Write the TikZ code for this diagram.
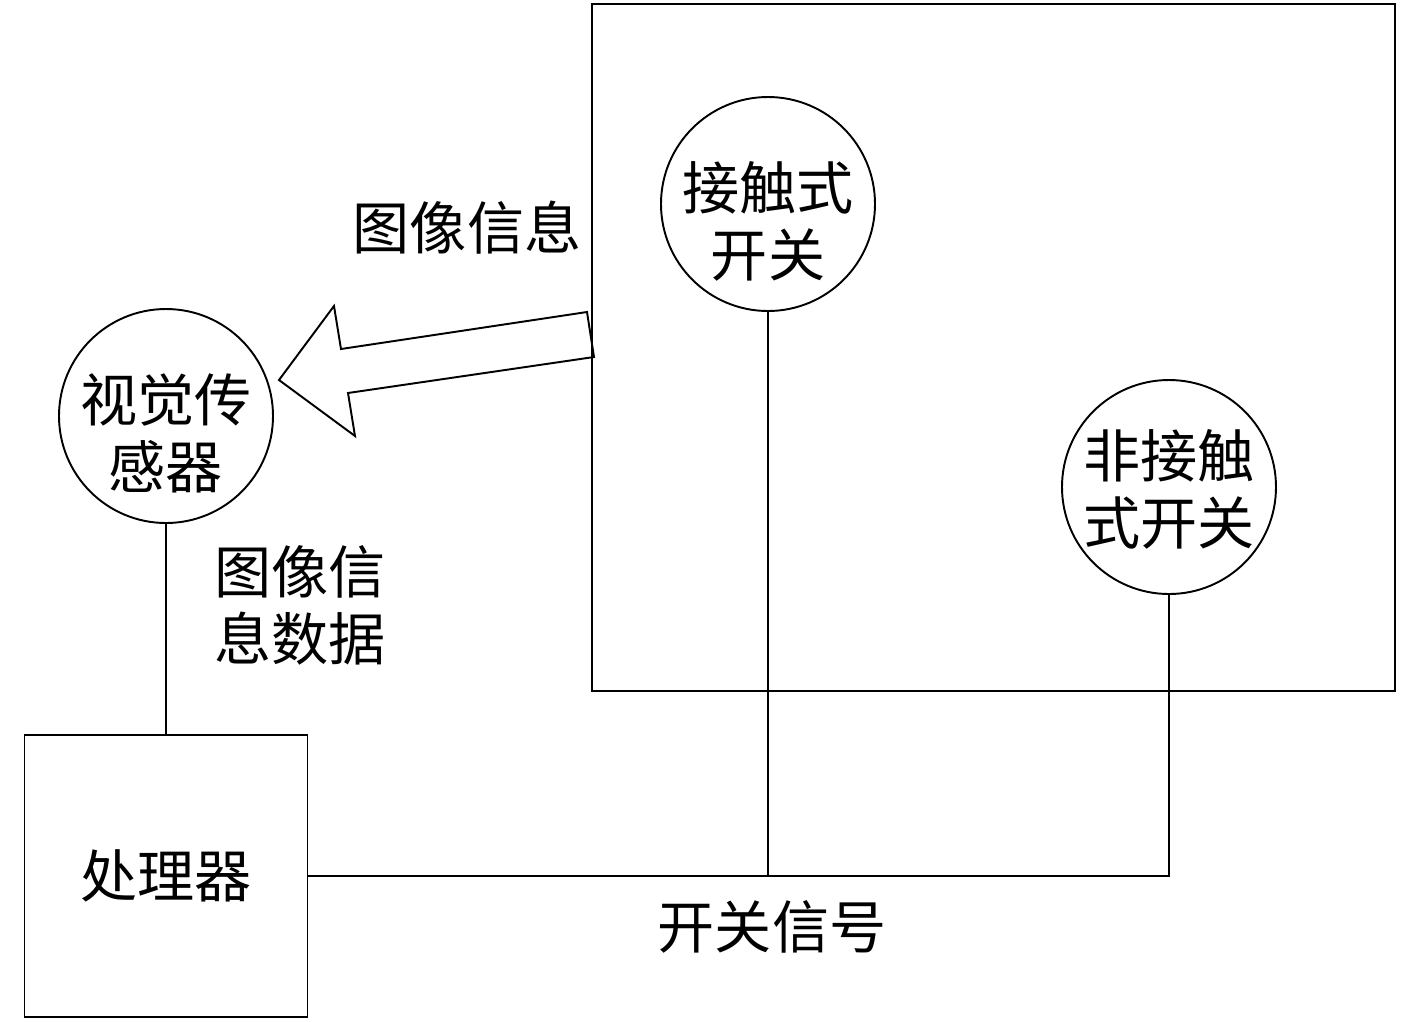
\documentclass[tikz,border=0pt]{standalone}
\usepackage{fontspec}
\setmainfont{Noto Sans CJK SC}
\begin{document}
\begin{tikzpicture}[
    x=0.2mm,
    y=-0.2mm,
    line width=1.1pt,
    font=\fontsize{32.5}{38}\selectfont,
    round/.style={draw,circle,minimum size=42.8mm,inner sep=0pt},
    box/.style={draw,minimum width=56.6mm,minimum height=56.4mm},
    txt/.style={align=center,inner sep=0pt}
]
\useasboundingbox (0,0) rectangle (1417,1021);

\draw (592,4) rectangle (1395,691);

\node[round] (cs) at (768,204) {};
\node[round] (ncs) at (1169,487) {};
\node[round] (cam) at (166,416) {};
\node[box] (cpu) at (166,876) {处理器};

\node[txt] (cstext) at (768,221) {接触式\\开关};
\node[txt] (ncstext) at (1169,489) {非接触\\式开关};
\node[txt] (camtext) at (166,433) {视觉传\\感器};

\draw (cam.south) -- (cpu.north);
\draw (cs.south) -- (cs.south |- cpu.east);
\draw (cpu.east) -- (cpu.east -| ncs.south) -- (ncs.south);

\draw (594,357) -- (348,393) -- (355,436) -- (279,380) -- (334,306)
    -- (341,349) -- (587,312) -- cycle;

\node (img) at (467,228) {图像信息};
\node[txt] (data) at (300,605) {图像信\\息数据};
\node (sig) at (772,927) {开关信号};
\end{tikzpicture}
\end{document}
